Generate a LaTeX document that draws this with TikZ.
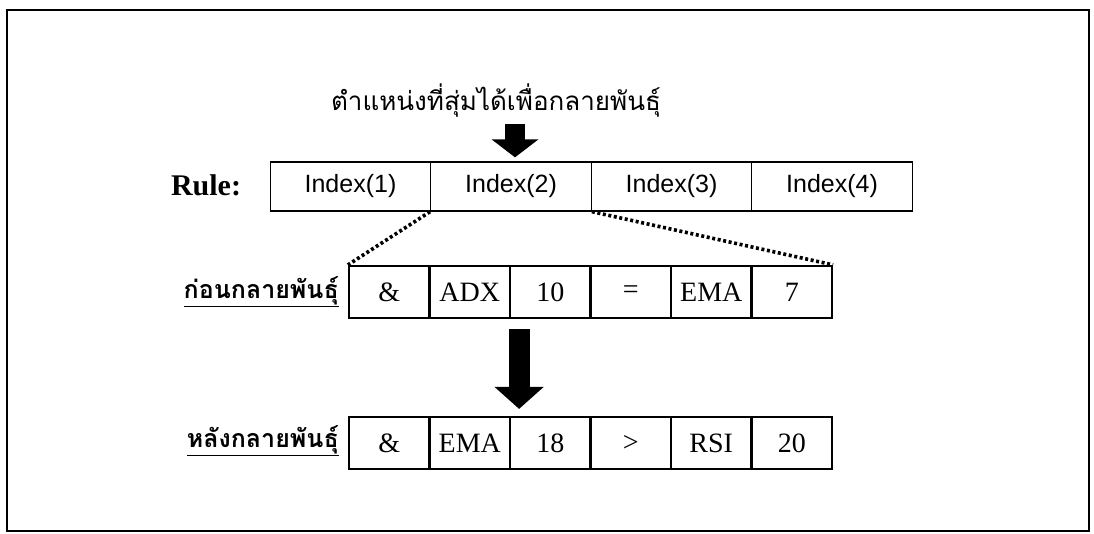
\documentclass[tikz,border=0pt]{standalone}
\usepackage{fontspec}
\setmainfont{Liberation Serif}
\newfontfamily\thaifont[Script=Thai]{Loma}
\newfontfamily\arialfont{Liberation Sans}
\usetikzlibrary{arrows.meta}
\begin{document}
\begin{tikzpicture}[x=1pt,y=-1pt,
  rulecell/.style={draw,line width=1.3pt,minimum width=160.5pt,minimum height=49pt,inner sep=0pt,font=\arialfont\fontsize{25}{28}\selectfont},
  gene/.style={draw,line width=2.2pt,minimum width=80.5pt,minimum height=52pt,inner sep=0pt,font=\fontsize{28}{31}\selectfont},
  thlabel/.style={anchor=east,inner sep=0pt,font=\thaifont\bfseries\fontsize{25}{29}\selectfont},
  bigarrow/.style={line width=21pt,-{Triangle[width=48pt,length=22pt]}},
  smallarrow/.style={line width=20pt,-{Triangle[width=46pt,length=18pt]}},
  dots/.style={line width=3.6pt,dash pattern=on 3pt off 2.6pt}
]
\useasboundingbox[fill=white] (0,0) rectangle (1094,533);
\draw[line width=1.6pt] (7,10) rectangle (1089,531);

% title
\node[inner sep=0pt,font=\thaifont\fontsize{26}{30}\selectfont] (title) at (496,101) {ตำแหน่งที่สุ่มได้เพื่อกลายพันธุ์};

% rule row
\node[inner sep=0pt,font=\bfseries\fontsize{30}{34}\selectfont] (rule) at (206,185) {Rule:};
\node[rulecell] (r1) at (350.5,186.5) {Index(1)};
\node[rulecell] (r2) at (511,186.5) {Index(2)};
\node[rulecell] (r3) at (671.5,186.5) {Index(3)};
\node[rulecell] (r4) at (832,186.5) {Index(4)};

% before row
\node[thlabel] (lb) at (339,292) {\underline{ก่อนกลายพันธุ์}};
\node[gene] (b1) at (389.25,292) {\&};
\node[gene] (b2) at (469.75,292) {ADX};
\node[gene] (b3) at (550.25,292) {10};
\node[gene] (b4) at (630.75,292) {=};
\node[gene] (b5) at (711.25,292) {EMA};
\node[gene] (b6) at (791.75,292) {7};

% after row
\node[thlabel] (la) at (339,441) {\underline{หลังกลายพันธุ์}};
\node[gene] (a1) at (389.25,443) {\&};
\node[gene] (a2) at (469.75,443) {EMA};
\node[gene] (a3) at (550.25,443) {18};
\node[gene] (a4) at (630.75,443) {>};
\node[gene] (a5) at (711.25,443) {RSI};
\node[gene] (a6) at (791.75,443) {20};

% arrows
\draw[smallarrow] ([xshift=4pt,yshift=-6pt]title.south -| r2.north) -- ([xshift=4pt,yshift=4pt]r2.north);
\draw[bigarrow] ([xshift=8pt,yshift=-10pt]b2.south east) -- ([xshift=8pt,yshift=7pt]a2.north east);

% dotted zoom lines
\draw[dots] (r2.south west) -- (b1.north west);
\draw[dots] (r2.south east) -- (b6.north east);
\end{tikzpicture}
\end{document}
